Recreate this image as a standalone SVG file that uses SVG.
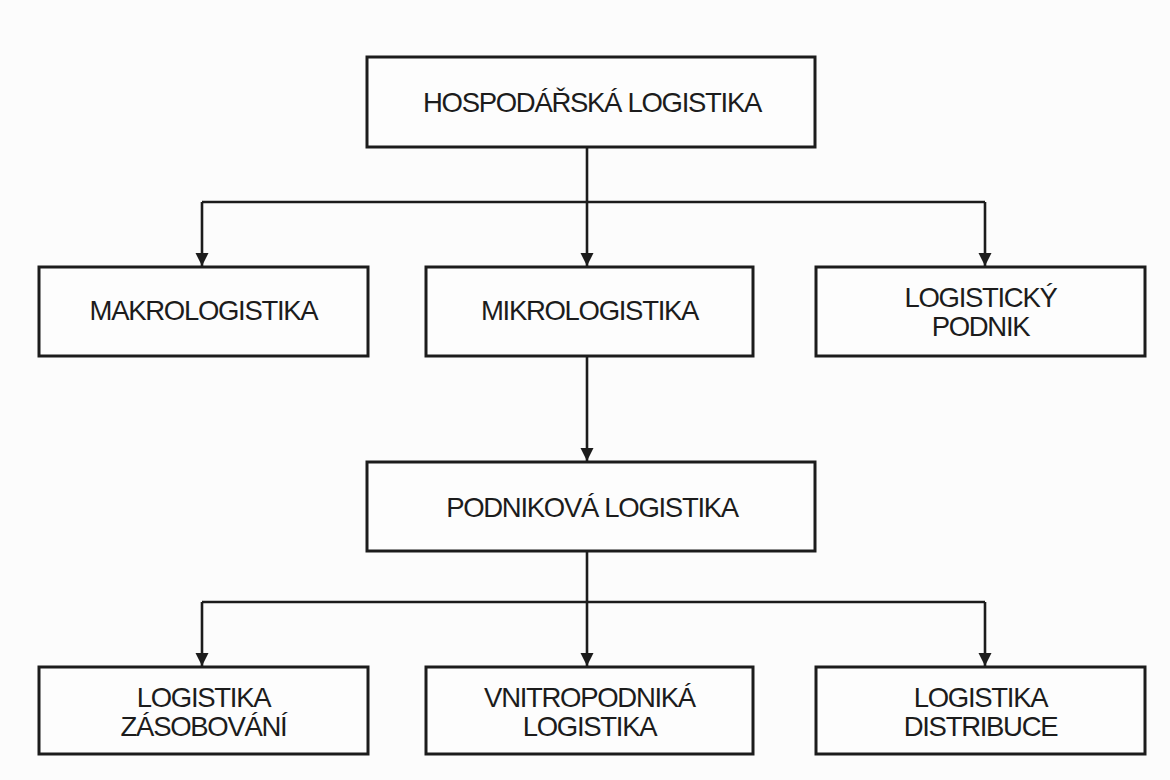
<svg xmlns="http://www.w3.org/2000/svg" width="1170" height="780" viewBox="0 0 1170 780">
  <style>
    .box { fill: #fdfdfd; stroke: #1c1c1c; stroke-width: 3; }
    .lbl { font-family: "Liberation Sans", Arial, sans-serif; font-size: 27.5px; letter-spacing: -1.3px; fill: #1c1c1c; text-anchor: middle; }
    .conn { fill: none; stroke: #1c1c1c; stroke-width: 2.6; }
  </style>
  <defs>
    <marker id="arrow" markerUnits="userSpaceOnUse" markerWidth="14" markerHeight="16" refX="13" refY="6.5" orient="auto">
      <path d="M0,0 L13,6.5 L0,13 Z" fill="#1c1c1c"/>
    </marker>
  </defs>
  <rect x="0" y="0" width="1170" height="780" fill="#fcfcfc"/>

  <g id="connectors">
    <path class="conn" d="M587,147 V266" marker-end="url(#arrow)"/>
    <path class="conn" d="M202,202 H985"/>
    <path class="conn" d="M202,202 V266" marker-end="url(#arrow)"/>
    <path class="conn" d="M985,202 V266" marker-end="url(#arrow)"/>
    <path class="conn" d="M587,356 V461" marker-end="url(#arrow)"/>
    <path class="conn" d="M587,552 V666" marker-end="url(#arrow)"/>
    <path class="conn" d="M202,602 H985"/>
    <path class="conn" d="M202,602 V666" marker-end="url(#arrow)"/>
    <path class="conn" d="M985,602 V666" marker-end="url(#arrow)"/>
  </g>

  <g id="hospodarska">
    <rect class="box" x="367" y="57" width="448" height="90"/>
    <text class="lbl" x="592" y="111.5">HOSPODÁŘSKÁ LOGISTIKA</text>
  </g>

  <g id="makrologistika">
    <rect class="box" x="39" y="267" width="329" height="89"/>
    <text class="lbl" x="203.5" y="320">MAKROLOGISTIKA</text>
  </g>

  <g id="mikrologistika">
    <rect class="box" x="426" y="267" width="327" height="89"/>
    <text class="lbl" x="589.5" y="320">MIKROLOGISTIKA</text>
  </g>

  <g id="logisticky-podnik">
    <rect class="box" x="816" y="267" width="329" height="89"/>
    <text class="lbl" x="980.5" y="306.5">LOGISTICKÝ</text>
    <text class="lbl" x="980.5" y="336">PODNIK</text>
  </g>

  <g id="podnikova">
    <rect class="box" x="367" y="462" width="448" height="89"/>
    <text class="lbl" x="592" y="516.5">PODNIKOVÁ LOGISTIKA</text>
  </g>

  <g id="zasobovani">
    <rect class="box" x="39" y="667" width="329" height="87"/>
    <text class="lbl" x="203.5" y="706.5">LOGISTIKA</text>
    <text class="lbl" x="203.5" y="736">ZÁSOBOVÁNÍ</text>
  </g>

  <g id="vnitropodnika">
    <rect class="box" x="426" y="667" width="327" height="87"/>
    <text class="lbl" x="589.5" y="706.5">VNITROPODNIKÁ</text>
    <text class="lbl" x="589.5" y="736">LOGISTIKA</text>
  </g>

  <g id="distribuce">
    <rect class="box" x="816" y="667" width="329" height="87"/>
    <text class="lbl" x="980.5" y="706.5">LOGISTIKA</text>
    <text class="lbl" x="980.5" y="736">DISTRIBUCE</text>
  </g>
</svg>
